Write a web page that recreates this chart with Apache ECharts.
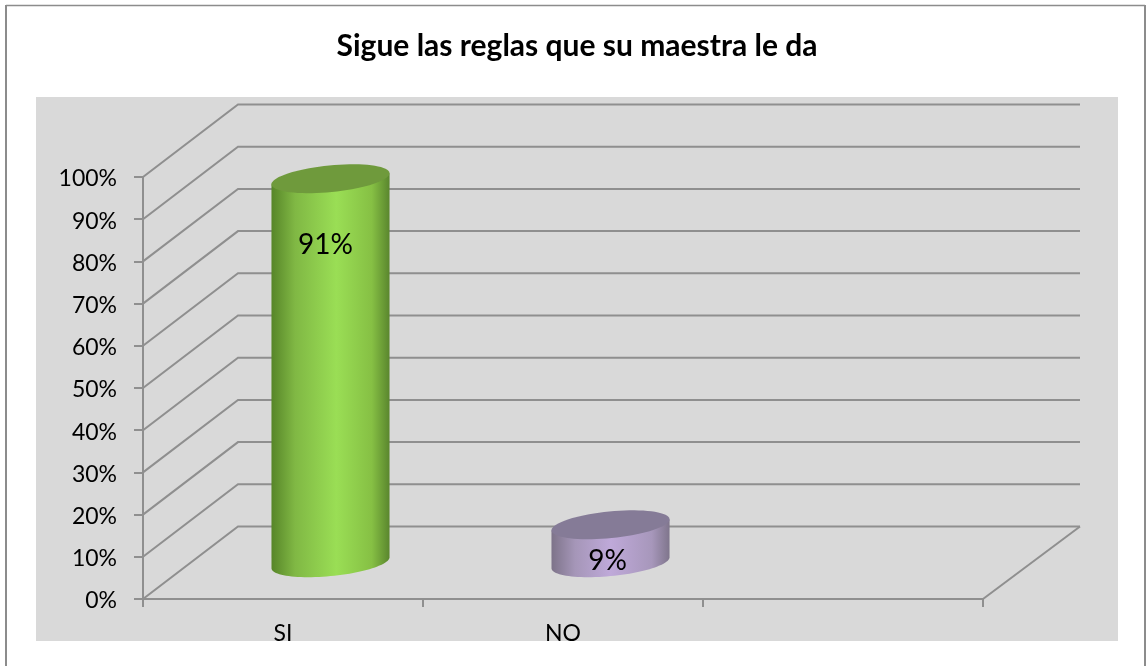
<!DOCTYPE html>
<html>
<head>
<meta charset="utf-8">
<title>Sigue las reglas que su maestra le da</title>
<script src="https://cdn.jsdelivr.net/npm/echarts@6/dist/echarts.min.js"></script>
<style>
  html, body { margin: 0; padding: 0; background: #fff; overflow: hidden; }
  #chart { width: 1147px; height: 666px; }
</style>
</head>
<body>
<div id="chart"></div>
<script>
var titulo = "Sigue las reglas que su maestra le da";
var categorias = ["SI", "NO", ""];
var porcentajes = [91, 9];
var marcasY = [0, 10, 20, 30, 40, 50, 60, 70, 80, 90, 100];

// depth of the fake 3D box, and the cylinder sits half way in
var fondoX = 95;
var fondoY = 72.5;
var radioX = 59.3;
var radioY = 13.3;
var giro = 5.6 * Math.PI / 180;
var fuente = "Lato, 'Open Sans', sans-serif";
var colorLinea = "#8f8f8f";

var estilos = [
  {
    tapa: "#6f9a3c",
    cuerpo: [[0, "#578529"], [0.2, "#80b844"], [0.55, "#9ade55"], [0.85, "#86c044"], [1, "#5a862e"]],
    mueveEtiqueta: [-5, 30]
  },
  {
    tapa: "#857b97",
    cuerpo: [[0, "#7d7389"], [0.2, "#a596b8"], [0.5, "#bfa9d9"], [0.85, "#a797bb"], [1, "#7f758c"]],
    mueveEtiqueta: [-3, 0]
  }
];

// point on the tilted ellipse, t in radians
function puntoElipse(cx, cy, t) {
  var ex = radioX * Math.cos(t);
  var ey = radioY * Math.sin(t);
  return [cx + ex * Math.cos(giro) + ey * Math.sin(giro), cy - ex * Math.sin(giro) + ey * Math.cos(giro)];
}

function elipse(cx, cy) {
  var pts = [];
  for (var i = 0; i < 72; i++) {
    pts.push(puntoElipse(cx, cy, (i / 72) * Math.PI * 2));
  }
  return pts;
}

function cuerpo(cx, arriba, abajo) {
  // t of the left and right extremes of the tilted ellipse
  var tDer = Math.atan2(radioY * Math.sin(giro), radioX * Math.cos(giro));
  var pts = [];
  for (var i = 0; i <= 48; i++) {
    pts.push(puntoElipse(cx, abajo, tDer + (i / 48) * Math.PI));
  }
  var izq = puntoElipse(cx, arriba, tDer + Math.PI);
  var der = puntoElipse(cx, arriba, tDer);
  pts.push(izq, der);
  return pts;
}

function pintaParedes(params, api) {
  var p = api.coord([0, api.value(0)]);
  var base = params.coordSys;
  var izq = base.x;
  var der = base.x + base.width;
  var y = p[1];
  return {
    type: "polyline",
    shape: {
      points: [
        [izq, y],
        [izq + fondoX, y - fondoY],
        [der + fondoX + 2, y - fondoY]
      ]
    },
    style: { stroke: colorLinea, lineWidth: 2, fill: null }
  };
}

function pintaSuelo(params, api) {
  var base = params.coordSys;
  var der = base.x + base.width;
  var abajo = base.y + base.height;
  return {
    type: "line",
    shape: { x1: der, y1: abajo, x2: der + fondoX + 2, y2: abajo - fondoY },
    style: { stroke: colorLinea, lineWidth: 2 }
  };
}

function pintaCilindro(params, api) {
  var i = params.dataIndex;
  var est = estilos[i];
  var tope = api.coord([i, api.value(1)]);
  var pie = api.coord([i, 0]);
  var cx = tope[0] + fondoX / 2;
  var arriba = tope[1] - fondoY / 2;
  var abajo = pie[1] - fondoY / 2;
  return {
    type: "group",
    children: [
      {
        type: "polygon",
        shape: { points: cuerpo(cx, arriba, abajo) },
        style: { fill: new echarts.graphic.LinearGradient(0, 0, 1, 0, est.cuerpo.map(function (c) {
          return { offset: c[0], color: c[1] };
        })) }
      },
      {
        type: "polygon",
        shape: { points: elipse(cx, arriba) },
        style: { fill: est.tapa }
      },
      {
        type: "text",
        z2: 10,
        style: {
          text: api.value(1) + "%",
          x: cx + est.mueveEtiqueta[0],
          y: tope[1] + est.mueveEtiqueta[1],
          align: "center",
          verticalAlign: "middle",
          fill: "#000",
          font: "28px " + fuente
        }
      }
    ]
  };
}

var myChart = echarts.init(document.getElementById("chart"), null, { renderer: "canvas" });

var options = {
  animation: false,
  backgroundColor: "#ffffff",
  title: {
    text: titulo,
    left: 572,
    top: 26,
    textAlign: "center",
    textStyle: { fontFamily: fuente, fontSize: 30, fontWeight: "bold", color: "#000" }
  },
  grid: { left: 143, right: 164, top: 177, bottom: 67 },
  xAxis: {
    type: "category",
    data: categorias,
    axisLine: { lineStyle: { color: colorLinea, width: 2 } },
    axisTick: { show: true, length: 8, lineStyle: { color: colorLinea, width: 2 } },
    axisLabel: { margin: 23, color: "#000", fontFamily: fuente, fontSize: 23 }
  },
  yAxis: {
    type: "value",
    min: 0,
    max: 100,
    interval: 10,
    axisLine: { show: true, lineStyle: { color: colorLinea, width: 2 } },
    axisTick: { show: true, length: 9, lineStyle: { color: colorLinea, width: 2 } },
    // top align with a short line box drops the labels 2px below the tick
    axisLabel: { formatter: "{value}%", margin: 26, verticalAlign: "top", lineHeight: 4, color: "#000", fontFamily: fuente, fontSize: 23 },
    splitLine: { show: false }
  },
  graphic: [
    // plot background
    { type: "rect", z: -1, shape: { x: 36, y: 97, width: 1082, height: 544 }, style: { fill: "#d9d9d9" } },
    // the label row is cut off at the bottom of the grey area in the original
    { type: "rect", z: 100, shape: { x: 8, y: 641, width: 1136, height: 25 }, style: { fill: "#ffffff" } },
    // chart frame, runs off the bottom of the page
    { type: "line", z: 101, shape: { x1: 6, y1: 5.5, x2: 1145, y2: 5.5 }, style: { stroke: "#8c8c8c", lineWidth: 1.5 } },
    { type: "line", z: 101, shape: { x1: 6, y1: 5, x2: 6, y2: 666 }, style: { stroke: "#8c8c8c", lineWidth: 2 } },
    { type: "line", z: 101, shape: { x1: 1145, y1: 5, x2: 1145, y2: 666 }, style: { stroke: "#8c8c8c", lineWidth: 2 } }
  ],
  series: [
    {
      type: "custom",
      z: 1,
      silent: true,
      renderItem: pintaParedes,
      encode: { y: 0 },
      data: marcasY.map(function (v) { return [v]; }),
      coordinateSystem: "cartesian2d"
    },
    {
      type: "custom",
      z: 1,
      silent: true,
      renderItem: pintaSuelo,
      data: [[0, 0]]
    },
    {
      type: "custom",
      z: 3,
      renderItem: pintaCilindro,
      encode: { x: 0, y: 1 },
      data: porcentajes.map(function (v, i) { return [i, v]; })
    }
  ]
};

myChart.setOption(options);
window.addEventListener("resize", function () {
  myChart.resize();
});
</script>
</body>
</html>
